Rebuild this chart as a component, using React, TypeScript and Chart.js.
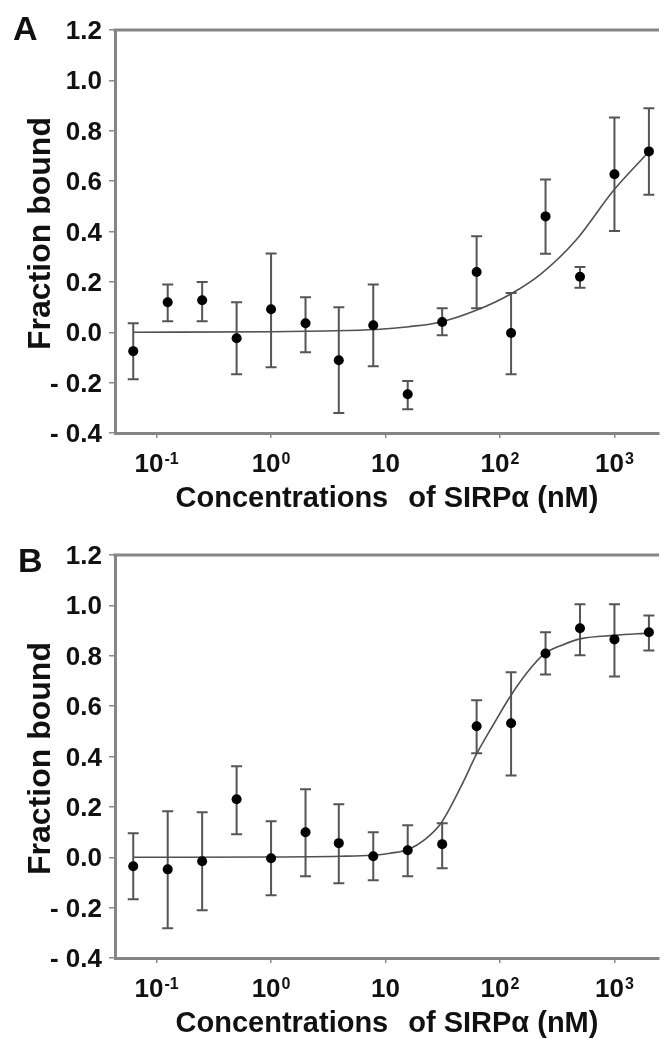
import React, { useEffect, useRef } from 'react';
import { Chart, registerables } from 'chart.js';

Chart.register(...registerables);

// ---------- data ----------
const concentrations = [0.0625, 0.125, 0.25, 0.5, 1, 2, 3.90625, 7.8125, 15.625, 31.25, 62.5, 125, 250, 500, 1000, 2000];

const boundA = [-0.075, 0.119, 0.127, -0.024, 0.091, 0.036, -0.111, 0.028, -0.246, 0.041, 0.239, -0.003, 0.46, 0.22, 0.627, 0.718];
const upperA = [0.036, 0.19, 0.2, 0.119, 0.313, 0.139, 0.099, 0.19, -0.194, 0.095, 0.381, 0.156, 0.606, 0.259, 0.853, 0.889];
const lowerA = [-0.187, 0.044, 0.044, -0.167, -0.139, -0.079, -0.321, -0.135, -0.306, -0.012, 0.095, -0.167, 0.312, 0.177, 0.402, 0.546];

const fitXA = [0.0625, 1, 3, 8.3, 16, 30.5, 62, 123, 230, 460, 980, 1860, 2000];
const fitYA = [0.0, 0.002, 0.005, 0.011, 0.022, 0.041, 0.087, 0.151, 0.233, 0.365, 0.563, 0.702, 0.718];

const boundB = [-0.036, -0.048, -0.016, 0.23, -0.004, 0.099, 0.056, 0.004, 0.028, 0.052, 0.52, 0.532, 0.809, 0.909, 0.865, 0.893];
const upperB = [0.095, 0.183, 0.179, 0.361, 0.143, 0.27, 0.21, 0.099, 0.127, 0.135, 0.623, 0.734, 0.893, 1.004, 1.004, 0.96];
const lowerB = [-0.167, -0.282, -0.21, 0.091, -0.151, -0.075, -0.103, -0.091, -0.075, -0.044, 0.413, 0.325, 0.726, 0.802, 0.718, 0.821];

const fitXB = [0.0625, 1, 4, 7.6, 11, 16, 22, 30.5, 45, 63, 89, 122, 174, 245, 343, 514, 1000, 2000];
const fitYB = [0.0, 0.001, 0.004, 0.008, 0.016, 0.032, 0.07, 0.135, 0.275, 0.413, 0.532, 0.636, 0.735, 0.808, 0.841, 0.868, 0.881, 0.89];

const xTickValues = [0.1, 1, 10, 100, 1000];
const xTickBase = ['10', '10', '10', '10', '10'];
const xTickExp = ['-1', '0', '', '2', '3'];

const yTickValues = [1.2, 1.0, 0.8, 0.6, 0.4, 0.2, 0.0, -0.2, -0.4];
const yTickLabels = ['1.2', '1.0', '0.8', '0.6', '0.4', '0.2', '0.0', '- 0.2', '- 0.4'];

const X_MIN = 0.0433;
const X_MAX = 2450;
const Y_MIN = -0.4;
const Y_MAX = 1.2;

const yTitle = 'Fraction bound';
const xTitleParts = ['Concentrations', 'of SIRPα (nM)'];

// ---------- style ----------
const FONT = '"Liberation Sans", Arial, Helvetica, sans-serif';
const AXIS_COLOR = '#858585';
const TICK_COLOR = '#8a8a8a';
const ERR_COLOR = '#555555';
const TEXT_COLOR = '#111111';

type PanelCfg = {
  label: string;
  labelX: number;
  labelY: number;
  height: number;
  bound: number[];
  upper: number[];
  lower: number[];
  fitX: number[];
  fitY: number[];
};

const PLOT_TOP = 30;
const PLOT_HEIGHT = 403;

function buildChart(canvas: HTMLCanvasElement, cfg: PanelCfg) {
  const errorBars = {
    id: 'errorBars',
    beforeDatasetsDraw(chart: any) {
      const { ctx } = chart;
      const xs = chart.scales.x;
      const ys = chart.scales.y;
      ctx.save();
      ctx.strokeStyle = ERR_COLOR;
      ctx.lineWidth = 2;
      concentrations.forEach((c, i) => {
        const px = xs.getPixelForValue(c);
        const pt = ys.getPixelForValue(cfg.upper[i]);
        const pb = ys.getPixelForValue(cfg.lower[i]);
        ctx.beginPath();
        ctx.moveTo(px, pt);
        ctx.lineTo(px, pb);
        ctx.moveTo(px - 5.5, pt);
        ctx.lineTo(px + 5.5, pt);
        ctx.moveTo(px - 5.5, pb);
        ctx.lineTo(px + 5.5, pb);
        ctx.stroke();
      });
      ctx.restore();
    },
  };

  const texts = {
    id: 'texts',
    afterDraw(chart: any) {
      const { ctx, chartArea: ca } = chart;
      const xs = chart.scales.x;
      const ys = chart.scales.y;
      ctx.save();
      // top frame line
      ctx.strokeStyle = AXIS_COLOR;
      ctx.lineWidth = 3;
      ctx.beginPath();
      ctx.moveTo(ca.left - 1.5, ca.top);
      ctx.lineTo(ca.right, ca.top);
      ctx.stroke();

      ctx.fillStyle = TEXT_COLOR;
      // y tick labels
      ctx.font = `bold 26px ${FONT}`;
      ctx.textAlign = 'right';
      ctx.textBaseline = 'alphabetic';
      yTickValues.forEach((v, i) => {
        const py = ys.getPixelForValue(v);
        ctx.fillText(yTickLabels[i], ca.left - 13, py + 9);
      });

      // x tick labels with superscripts
      xTickValues.forEach((v, i) => {
        const px = xs.getPixelForValue(v);
        ctx.font = `bold 26px ${FONT}`;
        const wb = ctx.measureText(xTickBase[i]).width;
        ctx.font = `bold 16px ${FONT}`;
        const we = xTickExp[i] ? ctx.measureText(xTickExp[i]).width + 1 : 0;
        const start = px - (wb + we) / 2;
        ctx.textAlign = 'left';
        ctx.font = `bold 26px ${FONT}`;
        ctx.fillText(xTickBase[i], start, ca.bottom + 39);
        if (xTickExp[i]) {
          ctx.font = `bold 16px ${FONT}`;
          ctx.fillText(xTickExp[i], start + wb + 1, ca.bottom + 31);
        }
      });

      // x title
      ctx.font = `bold 29px ${FONT}`;
      const w1 = ctx.measureText(xTitleParts[0]).width;
      const w2 = ctx.measureText(xTitleParts[1]).width;
      const gap = 20;
      const total = w1 + gap + w2;
      const cx = (ca.left + ca.right) / 2;
      ctx.textAlign = 'left';
      ctx.fillText(xTitleParts[0], cx - total / 2, ca.bottom + 74);
      ctx.fillText(xTitleParts[1], cx - total / 2 + w1 + gap, ca.bottom + 74);

      // y title
      ctx.save();
      ctx.translate(50, (ca.top + ca.bottom) / 2 + 2);
      ctx.rotate(-Math.PI / 2);
      ctx.font = `bold 32px ${FONT}`;
      ctx.textAlign = 'center';
      ctx.textBaseline = 'alphabetic';
      ctx.fillText(yTitle, 0, 0);
      ctx.restore();

      // panel label
      ctx.font = `bold 34px ${FONT}`;
      ctx.textAlign = 'left';
      ctx.fillText(cfg.label, cfg.labelX, cfg.labelY);
      ctx.restore();
    },
  };

  return new Chart(canvas, {
    type: 'scatter',
    data: {
      datasets: [
        {
          label: 'data',
          data: concentrations.map((c, i) => ({ x: c, y: cfg.bound[i] })),
          pointRadius: 5,
          pointBackgroundColor: '#000000',
          pointBorderWidth: 0,
          showLine: false,
          order: 0,
        },
        {
          label: 'fit',
          data: cfg.fitX.map((c, i) => ({ x: c, y: cfg.fitY[i] })),
          showLine: true,
          pointRadius: 0,
          borderColor: '#505050',
          borderWidth: 1.6,
          cubicInterpolationMode: 'monotone',
          order: 1,
        },
      ],
    },
    options: {
      responsive: false,
      animation: false,
      devicePixelRatio: 1,
      layout: { padding: { top: PLOT_TOP, left: 0, right: 0, bottom: 0 } },
      plugins: { legend: { display: false }, tooltip: { enabled: false } },
      scales: {
        x: {
          type: 'logarithmic',
          min: X_MIN,
          max: X_MAX,
          bounds: 'data',
          afterBuildTicks: (s: any) => {
            s.ticks = xTickValues.map((v) => ({ value: v }));
          },
          afterFit: (s: any) => {
            s.height = cfg.height - PLOT_TOP - PLOT_HEIGHT;
          },
          ticks: { display: false },
          grid: { display: true, drawOnChartArea: false, drawTicks: true, tickLength: 5, color: TICK_COLOR, lineWidth: 1.5 },
          border: { display: true, color: AXIS_COLOR, width: 3 },
          title: { display: false },
        },
        y: {
          type: 'linear',
          min: Y_MIN,
          max: Y_MAX,
          bounds: 'data',
          afterBuildTicks: (s: any) => {
            s.ticks = yTickValues.map((v) => ({ value: v }));
          },
          afterFit: (s: any) => {
            s.width = 115;
          },
          ticks: { display: false },
          grid: { display: true, drawOnChartArea: false, drawTicks: true, tickLength: 6, color: TICK_COLOR, lineWidth: 1.5 },
          border: { display: true, color: AXIS_COLOR, width: 3 },
          title: { display: false },
        },
      },
    } as any,
    plugins: [errorBars, texts],
  });
}

function Panel({ cfg }: { cfg: PanelCfg }) {
  const ref = useRef<HTMLCanvasElement | null>(null);
  useEffect(() => {
    if (!ref.current) return;
    const chart = buildChart(ref.current, cfg);
    return () => chart.destroy();
  }, [cfg]);
  return <canvas ref={ref} width={664} height={cfg.height} style={{ display: 'block', width: 664, height: cfg.height }} />;
}

const panelA: PanelCfg = {
  label: 'A', labelX: 13, labelY: 40, height: 525,
  bound: boundA, upper: upperA, lower: lowerA, fitX: fitXA, fitY: fitYA,
};
const panelB: PanelCfg = {
  label: 'B', labelX: 18, labelY: 47, height: 516,
  bound: boundB, upper: upperB, lower: lowerB, fitX: fitXB, fitY: fitYB,
};

export default function App() {
  return (
    <div style={{ position: 'absolute', left: 0, top: 0, width: 664, height: 1041, background: '#ffffff', overflow: 'hidden' }}>
      <Panel cfg={panelA} />
      <Panel cfg={panelB} />
    </div>
  );
}
